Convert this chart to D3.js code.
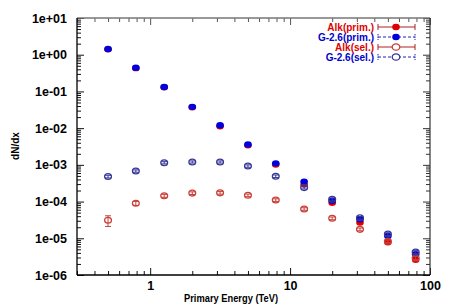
<!DOCTYPE html>
<html>
<head>
<meta charset="utf-8">
<script src="https://cdn.jsdelivr.net/npm/d3@7"></script>
<style>
  body { margin: 0; background: #fff; }
  text { font-family: "Liberation Sans", Arial, sans-serif; font-weight: bold; }
</style>
</head>
<body>
<div id="chart"></div>
<script>
// energies (TeV)
var energy = [0.5, 0.79, 1.26, 2.0, 3.16, 5.0, 7.9, 12.6, 20, 31.6, 50, 79];

// dN/dx per series
var alkPrim = [1.40, 0.43, 0.130, 0.037, 0.0113, 0.0034, 0.00102, 2.9e-4, 9.3e-5, 2.7e-5, 7.8e-6, 2.6e-6];
var g26Prim = [1.43, 0.44, 0.132, 0.038, 0.0120, 0.0036, 0.00110, 3.5e-4, 1.05e-4, 3.3e-5, 1.15e-5, 3.7e-6];
var alkSel  = [3.1e-5, 9.0e-5, 1.44e-4, 1.70e-4, 1.73e-4, 1.48e-4, 1.10e-4, 6.3e-5, 3.5e-5, 1.75e-5, 8.3e-6, 2.9e-6];
var g26Sel  = [4.8e-4, 6.8e-4, 1.14e-3, 1.20e-3, 1.20e-3, 9.3e-4, 4.9e-4, 2.4e-4, 1.15e-4, 3.6e-5, 1.3e-5, 4.2e-6];

// error bars
var alkPrimErr = [0.02, 0.006, 0.002, 0.0005, 0.0002, 0.00005, 0.00002, 5e-6, 2e-6, 6e-7, 2e-7, 1e-7];
var g26PrimErr = [0.02, 0.006, 0.002, 0.0005, 0.0002, 0.00005, 0.00002, 5e-6, 2e-6, 6e-7, 2e-7, 1e-7];
var alkSelErr  = [1.0e-5, 1.1e-5, 1.3e-5, 1.4e-5, 1.4e-5, 1.2e-5, 9e-6, 5e-6, 3e-6, 1.5e-6, 7e-7, 3e-7];
var g26SelErr  = [4e-5, 5e-5, 8e-5, 8e-5, 8e-5, 7e-5, 4e-5, 2e-5, 1e-5, 3e-6, 1.1e-6, 4e-7];

var yTicks = [1e-6, 1e-5, 1e-4, 1e-3, 1e-2, 1e-1, 1, 10];
var yTickLabels = ["1e-06", "1e-05", "1e-04", "1e-03", "1e-02", "1e-01", "1e+00", "1e+01"];
var xTicks = [1, 10, 100];
var xTickLabels = ["1", "10", "100"];

var margin = {top: 18, right: 28, bottom: 32, left: 77},
    width = 458 - margin.left - margin.right,
    height = 307 - margin.top - margin.bottom;

var svg = d3.select("#chart").append("svg")
    .attr("width", 458)
    .attr("height", 307);

var g = svg.append("g")
    .attr("transform", "translate(" + margin.left + "," + margin.top + ")");

var x = d3.scaleLog().domain([0.3, 100]).range([0, width]);
var y = d3.scaleLog().domain([1e-6, 10]).range([height, 0]);

var xMinor = x.ticks().filter(function(d) { return xTicks.indexOf(d) < 0; });
var yMinor = y.ticks().filter(function(d) { return yTicks.indexOf(d) < 0; });

function styleAxis(sel, color) {
  sel.select(".domain").remove();
  sel.selectAll("line").attr("stroke", color);
}

// major / minor ticks, all four sides, pointing inward
g.append("g").call(d3.axisLeft(y).tickValues(yTicks).tickSize(-7).tickPadding(10)
    .tickFormat(function(d, i) { return yTickLabels[i]; }))
  .call(styleAxis, "#111")
  .selectAll("text").attr("font-size", 12.5).attr("fill", "#000");
g.append("g").call(d3.axisLeft(y).tickValues(yMinor).tickSize(-4).tickFormat(""))
  .call(styleAxis, "#111");
g.append("g").attr("transform", "translate(" + width + ",0)")
  .call(d3.axisRight(y).tickValues(yTicks).tickSize(-7).tickFormat(""))
  .call(styleAxis, "#333");
g.append("g").attr("transform", "translate(" + width + ",0)")
  .call(d3.axisRight(y).tickValues(yMinor).tickSize(-4).tickFormat(""))
  .call(styleAxis, "#333");

g.append("g").attr("transform", "translate(0," + height + ")")
  .call(d3.axisBottom(x).tickValues(xTicks).tickSize(-7).tickPadding(6)
    .tickFormat(function(d, i) { return xTickLabels[i]; }))
  .call(styleAxis, "#111")
  .selectAll("text").attr("font-size", 12.5).attr("fill", "#000");
g.append("g").attr("transform", "translate(0," + height + ")")
  .call(d3.axisBottom(x).tickValues(xMinor).tickSize(-4).tickFormat(""))
  .call(styleAxis, "#111");
g.append("g")
  .call(d3.axisTop(x).tickValues(xTicks).tickSize(-7).tickFormat(""))
  .call(styleAxis, "#555");
g.append("g")
  .call(d3.axisTop(x).tickValues(xMinor).tickSize(-4).tickFormat(""))
  .call(styleAxis, "#555");

// frame
g.append("line").attr("x1", 0).attr("x2", width).attr("y1", 0).attr("y2", 0)
  .attr("stroke", "#777").attr("stroke-width", 1.6);
g.append("line").attr("x1", width).attr("x2", width).attr("y1", 0).attr("y2", height)
  .attr("stroke", "#333").attr("stroke-width", 1.2);
g.append("line").attr("x1", 0).attr("x2", 0).attr("y1", 0).attr("y2", height)
  .attr("stroke", "#000").attr("stroke-width", 1.3);
g.append("line").attr("x1", 0).attr("x2", width).attr("y1", height).attr("y2", height)
  .attr("stroke", "#000").attr("stroke-width", 1.3);

var series = [
  {name: "Alk(prim.)",   vals: alkPrim, err: alkPrimErr, color: "#e00000", line: "#b02020", txt: "#e00000", filled: true,  dash: null},
  {name: "G-2.6(prim.)", vals: g26Prim, err: g26PrimErr, color: "#0000dd", line: "#2020c0", txt: "#0000cc", filled: true,  dash: "3,2"},
  {name: "Alk(sel.)",    vals: alkSel,  err: alkSelErr,  color: "#c84038", line: "#b02020", txt: "#e00000", filled: false, dash: null},
  {name: "G-2.6(sel.)",  vals: g26Sel,  err: g26SelErr,  color: "#363696", line: "#2020c0", txt: "#0000cc", filled: false, dash: "3,2"}
];

series.forEach(function(s) {
  var pts = g.append("g").selectAll("g")
    .data(s.vals.map(function(v, i) { return {x: energy[i], v: v, e: s.err[i]}; }))
    .enter().append("g")
      .attr("transform", function(d) { return "translate(" + x(d.x) + ",0)"; });
  pts.append("line")
    .attr("y1", function(d) { return y(d.v + d.e); })
    .attr("y2", function(d) { return y(d.v - d.e); })
    .attr("stroke", s.color).attr("stroke-width", 1);
  pts.append("line").attr("x1", -3).attr("x2", 3)
    .attr("y1", function(d) { return y(d.v + d.e); })
    .attr("y2", function(d) { return y(d.v + d.e); })
    .attr("stroke", s.color).attr("stroke-width", 1);
  pts.append("line").attr("x1", -3).attr("x2", 3)
    .attr("y1", function(d) { return y(d.v - d.e); })
    .attr("y2", function(d) { return y(d.v - d.e); })
    .attr("stroke", s.color).attr("stroke-width", 1);
  if (s.filled) {
    pts.append("ellipse").attr("cy", function(d) { return y(d.v); })
      .attr("rx", 3.8).attr("ry", 3.2).attr("fill", s.color);
  } else {
    pts.append("ellipse").attr("cy", function(d) { return y(d.v); })
      .attr("rx", 3.4).attr("ry", 2.9).attr("fill", "none")
      .attr("stroke", s.color).attr("stroke-width", 1.3);
  }
});

// legend
var leg = svg.append("g");
series.forEach(function(s, i) {
  var ly = 27 + i * 10;
  leg.append("text").attr("x", 374).attr("y", ly + 3.6)
    .attr("text-anchor", "end").attr("font-size", 10).attr("fill", s.txt)
    .text(s.name);
  leg.append("line").attr("x1", 378).attr("x2", 415).attr("y1", ly).attr("y2", ly)
    .attr("stroke", s.line).attr("stroke-width", 1).attr("stroke-dasharray", s.dash);
  [378, 415].forEach(function(cx) {
    leg.append("line").attr("x1", cx).attr("x2", cx).attr("y1", ly - 3).attr("y2", ly + 3)
      .attr("stroke", s.line).attr("stroke-width", 1).attr("stroke-dasharray", s.dash ? "1.5,1" : null);
  });
  if (s.filled) {
    leg.append("ellipse").attr("cx", 396).attr("cy", ly).attr("rx", 3.8).attr("ry", 3.2).attr("fill", s.color);
  } else {
    leg.append("ellipse").attr("cx", 396).attr("cy", ly).attr("rx", 3.8).attr("ry", 3.2)
      .attr("fill", "#fff").attr("stroke", s.color).attr("stroke-width", 1.3);
  }
});

// axis titles
svg.append("text").attr("x", 231).attr("y", 302).attr("text-anchor", "middle")
  .attr("font-size", 11).attr("textLength", 94).attr("lengthAdjust", "spacingAndGlyphs")
  .text("Primary Energy (TeV)");
svg.append("text").attr("transform", "translate(19,146) rotate(-90)")
  .attr("text-anchor", "middle").attr("font-size", 10)
  .text("dN/dx");
</script>
</body>
</html>
